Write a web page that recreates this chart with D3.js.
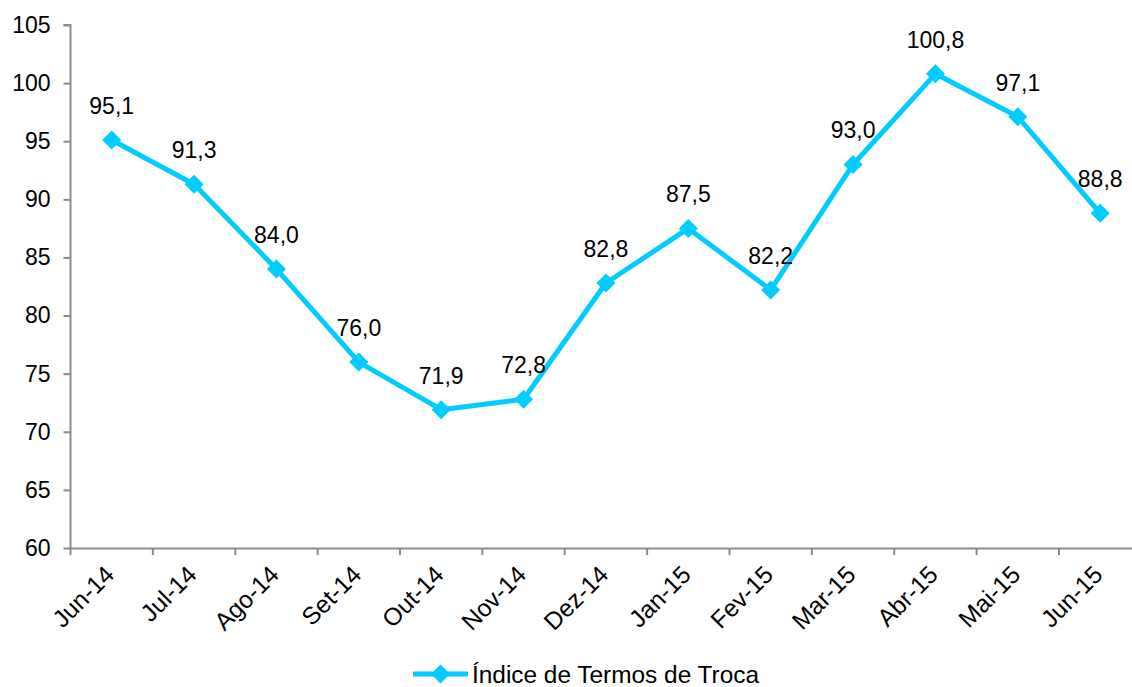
<!DOCTYPE html>
<html><head><meta charset="utf-8">
<script src="https://cdn.jsdelivr.net/npm/d3@7"></script>
<style>body{margin:0;background:#fff}svg{display:block;font-family:"Liberation Sans",Arial,sans-serif}</style>
</head><body><svg id="c" width="1132" height="687"></svg>
<script>
const categories = ["Jun-14","Jul-14","Ago-14","Set-14","Out-14","Nov-14","Dez-14","Jan-15","Fev-15","Mar-15","Abr-15","Mai-15","Jun-15"];
const values = [95.1, 91.3, 84.0, 76.0, 71.9, 72.8, 82.8, 87.5, 82.2, 93.0, 100.8, 97.1, 88.8];
const yTicks = [60, 65, 70, 75, 80, 85, 90, 95, 100, 105];
const seriesName = "Índice de Termos de Troca";

const svg = d3.select("#c");
const color = "#00CCFF", axisColor = "#8C8C8C";
const FS = 23, FSX = 24.5;
const left = 70.5, bandW = 82.375;
const x = d3.scaleBand().domain(categories).range([left, left + bandW * categories.length]);
const y = d3.scaleLinear().domain([60, 105]).range([548, 25]);
const fmt = v => d3.format(".1f")(v).replace(".", ",");

// Y axis
const ya = svg.append("g").attr("transform", `translate(${left},0)`)
  .call(d3.axisLeft(y).tickValues(yTicks).tickSize(7).tickPadding(13).tickFormat(d3.format("d")));
ya.select(".domain").attr("stroke", axisColor).attr("stroke-width", 2).attr("d", `M-7,${y(105)}H0V${y(60)}`);
ya.selectAll(".tick line").attr("stroke", axisColor).attr("stroke-width", 2);
ya.selectAll(".tick text").attr("font-size", FS).attr("fill", "#000").attr("font-family", "Liberation Sans, Arial, sans-serif");

// X axis with ticks at band boundaries
const xa = svg.append("g").attr("transform", `translate(0,${y(60)})`)
  .call(d3.axisBottom(x).tickSize(0).tickFormat(""));
xa.select(".domain").attr("stroke", axisColor).attr("stroke-width", 2);
xa.selectAll(".tick").remove();
const bounds = categories.map(c => x(c)).concat([x(categories[categories.length-1]) + x.bandwidth()]);
xa.selectAll("line.b").data(bounds).enter().append("line")
  .attr("x1", d => d).attr("x2", d => d).attr("y1", 0).attr("y2", 7)
  .attr("stroke", axisColor).attr("stroke-width", 2);
xa.selectAll("text.lab").data(categories).enter().append("text")
  .attr("transform", d => `translate(${x(d) + x.bandwidth()/2 + 4},${28}) rotate(-45)`)
  .attr("text-anchor", "end").attr("font-size", FSX).attr("fill", "#000")
  .text(d => d);

// Line
const cx = d => x(d) + x.bandwidth()/2;
const line = d3.line().x((d, i) => cx(categories[i])).y(d => y(d));
svg.append("path").datum(values).attr("d", line)
  .attr("fill", "none").attr("stroke", color).attr("stroke-width", 5).attr("stroke-linejoin", "round");

const diamond = d3.symbol().type(d3.symbolSquare).size(180);
svg.selectAll("path.m").data(values).enter().append("path")
  .attr("d", diamond)
  .attr("transform", (d, i) => `translate(${cx(categories[i])},${y(d)}) rotate(45)`)
  .attr("fill", color);

svg.selectAll("text.v").data(values).enter().append("text")
  .attr("x", (d, i) => cx(categories[i])).attr("y", d => y(d) - 26)
  .attr("text-anchor", "middle").attr("font-size", FS).attr("fill", "#000")
  .text(d => fmt(d));

// Legend
const lg = svg.append("g").attr("transform", "translate(413,674)");
lg.append("line").attr("x1", 0).attr("x2", 55).attr("y1", 0).attr("y2", 0)
  .attr("stroke", color).attr("stroke-width", 5);
lg.append("path").attr("d", diamond).attr("transform", "translate(27.5,0) rotate(45)").attr("fill", color);
lg.append("text").attr("x", 59).attr("y", 9).attr("font-size", 24.4)
  .attr("fill", "#000").text(seriesName);
</script></body></html>
